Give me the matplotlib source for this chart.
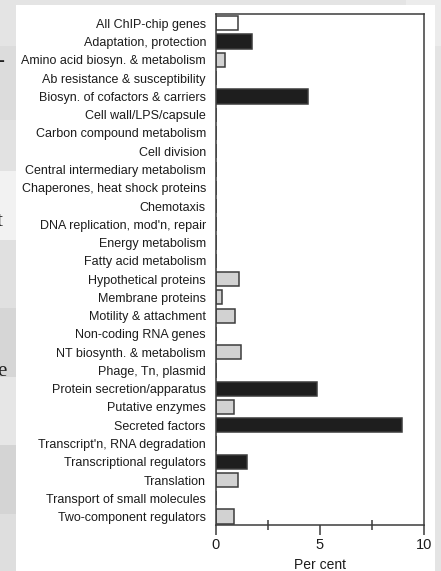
import matplotlib
matplotlib.use("Agg")
import matplotlib.pyplot as plt
from matplotlib.patches import Rectangle
from matplotlib.ticker import FixedLocator

# functional classes, top to bottom
categories = [
    "All ChIP-chip genes",
    "Adaptation, protection",
    "Amino acid biosyn. & metabolism",
    "Ab resistance & susceptibility",
    "Biosyn. of cofactors & carriers",
    "Cell wall/LPS/capsule",
    "Carbon compound metabolism",
    "Cell division",
    "Central intermediary metabolism",
    "Chaperones, heat shock proteins",
    "Chemotaxis",
    "DNA replication, mod'n, repair",
    "Energy metabolism",
    "Fatty acid metabolism",
    "Hypothetical proteins",
    "Membrane proteins",
    "Motility & attachment",
    "Non-coding RNA genes",
    "NT biosynth. & metabolism",
    "Phage, Tn, plasmid",
    "Protein secretion/apparatus",
    "Putative enzymes",
    "Secreted factors",
    "Transcript'n, RNA degradation",
    "Transcriptional regulators",
    "Translation",
    "Transport of small molecules",
    "Two-component regulators",
]
percent = [1.05, 1.75, 0.42, 0, 4.44, 0, 0, 0, 0, 0, 0, 0, 0, 0,
           1.12, 0.29, 0.91, 0, 1.19, 0, 4.86, 0.85, 8.96, 0, 1.49,
           1.06, 0, 0.85]
# "all" = reference set, "up" = enriched class, "other" = the rest
group = ["all", "up", "other", "other", "up", "other", "other", "other",
         "other", "other", "other", "other", "other", "other", "other",
         "other", "other", "other", "other", "other", "up", "other", "up",
         "other", "up", "other", "other", "other"]
xticks_major = [0, 5, 10]
xticks_minor = [2.5, 7.5]

fill = {"all": "white", "up": "#1e1e1e", "other": "#d2d2d2"}
edge = "#3c3c3c"
txt = "#1c1c1c"
plt.rcParams["font.family"] = ["Liberation Sans", "DejaVu Sans"]

W, H = 441, 571
fig = plt.figure(figsize=(W / 100, H / 100), dpi=100)
fig.patch.set_facecolor("#e4e4e4")

# blurry page behind the figure card
bands = [(0, 0.92, "#ececec"), (0.79, 0.13, "#dcdcdc"), (0.70, 0.09, "#e2e2e2"),
         (0.58, 0.12, "#f2f2f2"), (0.46, 0.12, "#e0e0e0"), (0.34, 0.12, "#d6d6d6"),
         (0.22, 0.12, "#e6e6e6"), (0.10, 0.12, "#d4d4d4"), (0.0, 0.10, "#dedede")]
for y0, h, c in bands:
    fig.add_artist(Rectangle((0, y0), 16 / W, h, transform=fig.transFigure,
                             facecolor=c, edgecolor="none", zorder=0))
fig.add_artist(Rectangle((0.92, 0.92), 0.08, 0.08, transform=fig.transFigure,
                         facecolor="#ececec", edgecolor="none", zorder=0))
fig.add_artist(Rectangle((16 / W, 0), 419 / W, 566 / H, transform=fig.transFigure,
                         facecolor="white", edgecolor="none", zorder=0))
for ch, yy in [("-", 62), ("t", 221), ("e", 372)]:
    fig.text(-3 / W, 1 - yy / H, ch, fontsize=15, family="Liberation Serif",
             color="#222222", va="center", ha="left")

ax = fig.add_axes([216 / W, 46 / H, 208 / W, 511 / H])
ax.set_facecolor("white")

ypos = list(range(len(categories)))
ax.barh(ypos, percent, height=0.78, color=[fill[g] for g in group],
        edgecolor=edge, linewidth=1.1)

ax.set_xlim(0, 10)
ax.set_ylim(len(categories) - 0.54, -0.51)
ax.set_yticks(ypos)
ax.set_yticklabels(categories, fontsize=9, color=txt)
ax.tick_params(axis="y", length=0, pad=7.2)

ax.xaxis.set_major_locator(FixedLocator(xticks_major))
ax.xaxis.set_minor_locator(FixedLocator(xticks_minor))
ax.set_xticklabels([str(v) for v in xticks_major], fontsize=10.5, color=txt)
ax.tick_params(axis="x", which="major", direction="out", length=7.2,
               width=1.1, color=edge, pad=2.5)
ax.tick_params(axis="x", which="minor", direction="inout", length=7,
               width=1.1, color=edge)
ax.set_xlabel("Per cent", fontsize=10, color=txt, labelpad=4)

for s in ax.spines.values():
    s.set_color(edge)
    s.set_linewidth(1.1)

fig.savefig("out.png", dpi=100, facecolor=fig.get_facecolor())
